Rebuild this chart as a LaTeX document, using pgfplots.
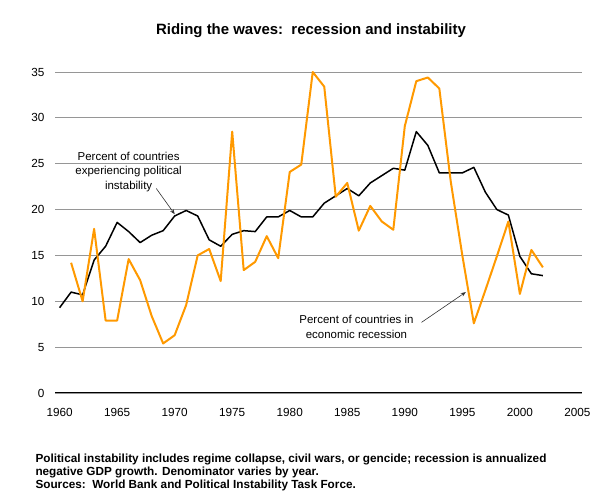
\documentclass[border=0pt]{standalone}
\usepackage{fontspec}
\setmainfont{Liberation Sans}
\usepackage{pgfplots}
\usepackage{pgfplotstable}
\pgfplotsset{compat=1.18}
\usetikzlibrary{arrows.meta}

\definecolor{recess}{RGB}{255,153,0}
\definecolor{gridgray}{RGB}{150,150,150}
\definecolor{arrowgray}{RGB}{50,50,50}

% Percent of countries experiencing political instability
\pgfplotstableread{
year val
1960 9.3
1961 11.0
1962 10.7
1963 14.5
1964 16.0
1965 18.6
1966 17.6
1967 16.4
1968 17.2
1969 17.7
1970 19.3
1971 19.9
1972 19.3
1973 16.7
1974 16.0
1975 17.3
1976 17.7
1977 17.6
1978 19.2
1979 19.2
1980 19.9
1981 19.2
1982 19.2
1983 20.7
1984 21.5
1985 22.3
1986 21.5
1987 22.9
1988 23.7
1989 24.5
1990 24.3
1991 28.5
1992 27.0
1993 24.0
1994 24.0
1995 24.0
1996 24.6
1997 21.9
1998 20.0
1999 19.4
2000 14.9
2001 13.0
2002 12.8
}\instability

% Percent of countries in economic recession
\pgfplotstableread{
year val
1961 14.2
1962 10.0
1963 17.9
1964 7.9
1965 7.9
1966 14.6
1967 12.3
1968 8.4
1969 5.4
1970 6.3
1971 9.6
1972 15.0
1973 15.7
1974 12.2
1975 28.5
1976 13.4
1977 14.3
1978 17.1
1979 14.7
1980 24.1
1981 24.9
1982 35.0
1983 33.4
1984 21.4
1985 22.9
1986 17.7
1987 20.4
1988 18.7
1989 17.8
1990 29.1
1991 34.0
1992 34.4
1993 33.2
1994 23.0
1995 15.0
1996 7.6
1997 11.2
1998 14.9
1999 18.7
2000 10.8
2001 15.6
2002 13.7
}\recession

\begin{document}
\begin{tikzpicture}
\useasboundingbox (0,0) rectangle (612bp,504bp);

\node[anchor=base, font=\fontsize{15}{17}\selectfont\bfseries]
  at (311bp,469bp) {Riding the waves:\ \ recession and instability};

\begin{axis}[
  at={(55bp,111bp)}, anchor=south west,
  scale only axis, width=527bp, height=321bp,
  xmin=1959.6, xmax=2005.4, ymin=0, ymax=35,
  xtick={1960,1965,...,2005}, ytick={0,5,...,35},
  axis x line*=bottom, axis y line*=left,
  y axis line style={draw=none},
  x axis line style={black, line width=1bp, -},
  major tick length=0pt,
  ymajorgrids, grid style={gridgray, line width=0.8bp},
  tick label style={font=\fontsize{11.8}{13}\selectfont},
  /pgf/number format/assume math mode=true,
  /pgf/number format/1000 sep={},
  xticklabel style={yshift=-12bp},
  yticklabel style={xshift=-7bp},
  clip=false,
]
\addplot[black, line width=1.5bp, line join=round] table[x=year, y=val] {\instability};
\addplot[recess, line width=2bp, line join=round] table[x=year, y=val] {\recession};

\node[align=center, font=\fontsize{11.5}{14.5}\selectfont]
  at (axis cs:1966,24.1) {Percent of countries\\experiencing political\\instability};
\draw[arrowgray, line width=0.6bp, -{Stealth[length=5bp, width=4bp]}]
  (axis cs:1968.4,22.3) -- (axis cs:1970.0,19.5);

\node[align=center, font=\fontsize{11.5}{14.5}\selectfont]
  at (axis cs:1985.8,7.2) {Percent of countries in\\economic recession};
\draw[arrowgray, line width=0.6bp, -{Stealth[length=5bp, width=4bp]}]
  (axis cs:1991.45,7.7) -- (axis cs:1995.3,11.0);
\end{axis}

\node[anchor=base west, font=\fontsize{11.8}{13}\selectfont\bfseries] at (32bp,41.5bp)
  {Political instability includes regime collapse, civil wars, or gencide; recession is annualized};
\node[anchor=base west, font=\fontsize{11.8}{13}\selectfont\bfseries] at (32bp,28.5bp)
  {negative GDP growth. Denominator varies by year.};
\node[anchor=base west, font=\fontsize{11.8}{13}\selectfont\bfseries] at (32bp,15.5bp)
  {Sources:\ \ World Bank and Political Instability Task Force.};
\end{tikzpicture}
\end{document}
